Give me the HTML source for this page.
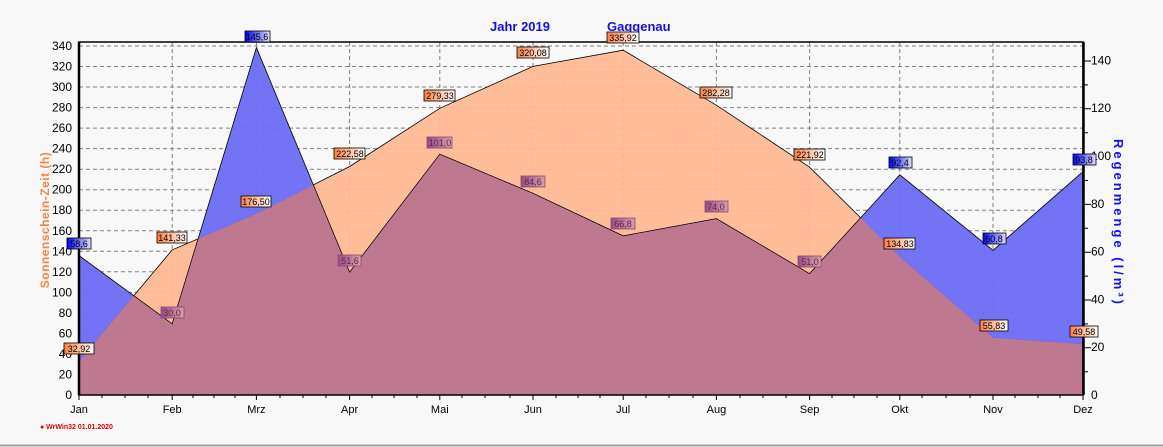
<!DOCTYPE html>
<html><head><meta charset="utf-8"><style>
body{margin:0;background:#f8f8f8;}
svg{display:block;font-family:"Liberation Sans",sans-serif;}
</style></head><body>
<svg width="1163" height="447" xmlns="http://www.w3.org/2000/svg">
<defs>
<linearGradient id="go" x1="0" x2="1"><stop offset="0" stop-color="#ff8040"/><stop offset="1" stop-color="#fff"/></linearGradient>
<linearGradient id="gb" x1="0" x2="1"><stop offset="0" stop-color="#0000ff"/><stop offset="1" stop-color="#e0e0ff"/></linearGradient>
<linearGradient id="gm" x1="0" x2="1"><stop offset="0" stop-color="#9a4a8a"/><stop offset="1" stop-color="#d8a0a8"/></linearGradient>
<clipPath id="cs"><polygon points="79,395 79,361.2 172.2,249.9 256.4,213.8 349.6,166.5 439.8,108.3 533,66.4 623.2,50.2 716.4,105.2 809.6,167.2 899.8,256.6 993,337.7 1083.2,344.1 1083.2,395"/></clipPath>
</defs>
<rect x="0" y="0" width="1163" height="447" fill="#f8f8f8"/>
<line x1="0" y1="445.5" x2="1163" y2="445.5" stroke="#a0a0a0" stroke-width="2"/>
<text x="490" y="31" font-size="13" font-weight="bold" fill="#1010e0">Jahr  2019</text>
<text x="607" y="31" font-size="13" font-weight="bold" fill="#1010e0">Gaggenau</text>
<!-- grid -->
<g stroke="#808080" stroke-dasharray="4,3" stroke-width="1">
<line x1="79" x2="1083" y1="374.5" y2="374.5"/><line x1="79" x2="1083" y1="354" y2="354"/><line x1="79" x2="1083" y1="333.4" y2="333.4"/><line x1="79" x2="1083" y1="312.9" y2="312.9"/><line x1="79" x2="1083" y1="292.4" y2="292.4"/><line x1="79" x2="1083" y1="271.8" y2="271.8"/><line x1="79" x2="1083" y1="251.3" y2="251.3"/><line x1="79" x2="1083" y1="230.8" y2="230.8"/><line x1="79" x2="1083" y1="210.2" y2="210.2"/><line x1="79" x2="1083" y1="189.7" y2="189.7"/><line x1="79" x2="1083" y1="169.2" y2="169.2"/><line x1="79" x2="1083" y1="148.6" y2="148.6"/><line x1="79" x2="1083" y1="128.1" y2="128.1"/><line x1="79" x2="1083" y1="107.6" y2="107.6"/><line x1="79" x2="1083" y1="87" y2="87"/><line x1="79" x2="1083" y1="66.5" y2="66.5"/><line x1="79" x2="1083" y1="46" y2="46"/>
<line y1="42" y2="395" x1="172.2" x2="172.2"/><line y1="42" y2="395" x1="256.4" x2="256.4"/><line y1="42" y2="395" x1="349.6" x2="349.6"/><line y1="42" y2="395" x1="439.8" x2="439.8"/><line y1="42" y2="395" x1="533" x2="533"/><line y1="42" y2="395" x1="623.2" x2="623.2"/><line y1="42" y2="395" x1="716.4" x2="716.4"/><line y1="42" y2="395" x1="809.6" x2="809.6"/><line y1="42" y2="395" x1="899.8" x2="899.8"/><line y1="42" y2="395" x1="993" x2="993"/>
</g>
<!-- series -->
<polygon points="79,395 79,361.2 172.2,249.9 256.4,213.8 349.6,166.5 439.8,108.3 533,66.4 623.2,50.2 716.4,105.2 809.6,167.2 899.8,256.6 993,337.7 1083.2,344.1 1083.2,395" fill="#ffb890" fill-opacity="0.92" stroke="#000" stroke-width="0.8"/>
<polygon id="rain" points="79,395 79,255.5 172.2,323.9 256.4,47.6 349.6,272.3 439.8,154.2 533,193.4 623.2,235.9 716.4,218.7 809.6,273.7 899.8,174.8 993,250.3 1083.2,171.4 1083.2,395" fill="#6b6bf5" fill-opacity="0.95" stroke="#000" stroke-width="0.8"/>
<polygon clip-path="url(#cs)" points="79,395 79,255.5 172.2,323.9 256.4,47.6 349.6,272.3 439.8,154.2 533,193.4 623.2,235.9 716.4,218.7 809.6,273.7 899.8,174.8 993,250.3 1083.2,171.4 1083.2,395" fill="#be7890" stroke="#000" stroke-width="0.6"/>
<!-- frame -->
<rect x="79" y="42" width="1004" height="353" fill="none" stroke="#000" stroke-width="1.5"/>
<line x1="79" y1="42" x2="79" y2="395" stroke="#000" stroke-width="2.5"/>
<line x1="1083.5" y1="42" x2="1083.5" y2="395" stroke="#000" stroke-width="2.5"/>
<!-- left ticks -->
<g font-size="12" fill="#000" text-anchor="end">
<text x="72" y="399">0</text><text x="72" y="378.5">20</text><text x="72" y="358">40</text><text x="72" y="337.4">60</text><text x="72" y="316.9">80</text><text x="72" y="296.4">100</text><text x="72" y="275.8">120</text><text x="72" y="255.3">140</text><text x="72" y="234.8">160</text><text x="72" y="214.2">180</text><text x="72" y="193.7">200</text><text x="72" y="173.2">220</text><text x="72" y="152.6">240</text><text x="72" y="132.1">260</text><text x="72" y="111.6">280</text><text x="72" y="91">300</text><text x="72" y="70.5">320</text><text x="72" y="50">340</text>
</g>
<g font-size="12" fill="#000">
<text x="1091" y="399">0</text><text x="1091" y="351.2">20</text><text x="1091" y="303.4">40</text><text x="1091" y="255.6">60</text><text x="1091" y="207.8">80</text><text x="1091" y="160">100</text><text x="1091" y="112.2">120</text><text x="1091" y="64.4">140</text>
</g>
<g stroke="#000" stroke-width="1">
<path d="M1083,371.7h5M1083,347.8h8M1083,323.9h5M1083,300h8M1083,276.1h5M1083,252.2h8M1083,228.3h5M1083,204.4h8M1083,180.5h5M1083,156.6h8M1083,132.7h5M1083,108.8h8M1083,84.9h5M1083,61h8"/>
<path d="M79,395v5M172.2,395v5M256.4,395v5M349.6,395v5M439.8,395v5M533,395v5M623.2,395v5M716.4,395v5M809.6,395v5M899.8,395v5M993,395v5M1083,395v5"/>
<path d="M102,395v3M125,395v3M148,395v3M193,395v3M214,395v3M235,395v3M280,395v3M303,395v3M326,395v3M372,395v3M394,395v3M417,395v3M462,395v3M485,395v3M510,395v3M556,395v3M578,395v3M600,395v3M646,395v3M669,395v3M693,395v3M740,395v3M763,395v3M786,395v3M832,395v3M854,395v3M877,395v3M922,395v3M946,395v3M970,395v3M1015,395v3M1038,395v3M1060,395v3"/>
</g>
<g font-size="11" fill="#000" text-anchor="middle">
<text x="79" y="413">Jan</text><text x="172.2" y="413">Feb</text><text x="256.4" y="413">Mrz</text><text x="349.6" y="413">Apr</text><text x="439.8" y="413">Mai</text><text x="533" y="413">Jun</text><text x="623.2" y="413">Jul</text><text x="716.4" y="413">Aug</text><text x="809.6" y="413">Sep</text><text x="899.8" y="413">Okt</text><text x="993" y="413">Nov</text><text x="1083" y="413">Dez</text>
</g>
<text transform="translate(49,220) rotate(-90)" font-size="12" font-weight="bold" fill="#ff8040" text-anchor="middle" letter-spacing="0.5">Sonnenschein-Zeit  (h)</text>
<text transform="translate(1114,223) rotate(90)" font-size="13" font-weight="bold" fill="#1010f0" text-anchor="middle" letter-spacing="3">Regenmenge  (l/m³)</text>
<text x="40" y="429" font-size="7" font-weight="bold" fill="#e00000">● WrWin32  01.01.2020</text>
<!-- labels -->
<g font-size="9" text-anchor="middle" stroke-width="0.8">
<g stroke="#000"><rect x="64" y="343" width="30" height="11" fill="url(#go)"/><rect x="157" y="232" width="30" height="11" fill="url(#go)"/><rect x="241" y="196" width="30" height="11" fill="url(#go)"/><rect x="334" y="148" width="31" height="11" fill="url(#go)"/><rect x="424" y="90" width="31" height="11" fill="url(#go)"/><rect x="517" y="47" width="32" height="11" fill="url(#go)"/><rect x="607" y="32" width="32" height="11" fill="url(#go)"/><rect x="700" y="87" width="32" height="11" fill="url(#go)"/><rect x="794" y="149" width="31" height="11" fill="url(#go)"/><rect x="884" y="238" width="31" height="11" fill="url(#go)"/><rect x="980" y="320" width="28" height="11" fill="url(#go)"/><rect x="1070" y="326" width="28" height="11" fill="url(#go)"/>
<rect x="67" y="238" width="24" height="11" fill="url(#gb)"/><rect x="245" y="31" width="25" height="11" fill="url(#gb)"/><rect x="889" y="157" width="23" height="11" fill="url(#gb)"/><rect x="983" y="233" width="23" height="11" fill="url(#gb)"/><rect x="1073" y="154" width="23" height="11" fill="url(#gb)"/></g>
<g stroke="#8a4a6a"><rect x="161" y="307" width="23" height="11" fill="url(#gm)"/><rect x="338" y="255" width="23" height="11" fill="url(#gm)"/><rect x="427" y="137" width="25" height="11" fill="url(#gm)"/><rect x="521" y="176" width="24" height="11" fill="url(#gm)"/><rect x="611" y="218" width="24" height="11" fill="url(#gm)"/><rect x="705" y="201" width="23" height="11" fill="url(#gm)"/><rect x="798" y="256" width="23" height="11" fill="url(#gm)"/></g>
<g fill="#000"><text x="79" y="352">32,92</text><text x="172" y="241">141,33</text><text x="256" y="205">176,50</text><text x="350" y="157">222,58</text><text x="440" y="99">279,33</text><text x="533" y="56">320,08</text><text x="623" y="41">335,92</text><text x="716" y="96">282,28</text><text x="810" y="158">221,92</text><text x="900" y="247">134,83</text><text x="994" y="329">55,83</text><text x="1084" y="335">49,58</text>
<text x="79" y="247">58,6</text><text x="257" y="40">145,6</text><text x="900" y="166">92,4</text><text x="994" y="242">60,8</text><text x="1084" y="163">93,8</text></g>
<g fill="#5a2a4a"><text x="172" y="316">30,0</text><text x="350" y="264">51,6</text><text x="440" y="146">101,0</text><text x="533" y="185">84,6</text><text x="623" y="227">66,8</text><text x="716" y="210">74,0</text><text x="810" y="265">51,0</text></g>
</g>
</svg>
</body></html>
